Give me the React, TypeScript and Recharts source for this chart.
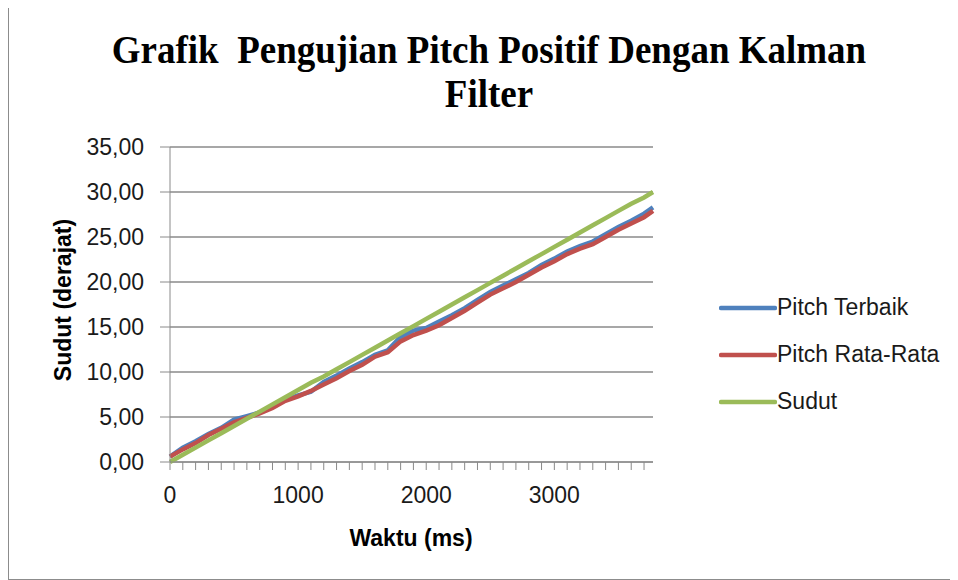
import React from "react";
import {
  LineChart,
  Line,
  XAxis,
  YAxis,
  CartesianGrid,
} from "recharts";

// time stamps in ms
const TIME = [
  0, 100, 200, 300, 400, 500, 600, 700, 800, 900, 1000, 1100, 1200, 1300,
  1400, 1500, 1600, 1700, 1800, 1900, 2000, 2100, 2200, 2300, 2400, 2500,
  2600, 2700, 2800, 2900, 3000, 3100, 3200, 3300, 3400, 3500, 3600, 3700,
  3770,
];

const PITCH_TERBAIK = [
  0.6, 1.6, 2.3, 3.1, 3.8, 4.7, 5.1, 5.5, 6.1, 6.9, 7.4, 7.8, 8.9, 9.6,
  10.4, 11.1, 11.9, 12.4, 13.9, 14.6, 14.9, 15.6, 16.3, 17.1, 18.0, 18.9,
  19.6, 20.3, 21.0, 21.9, 22.6, 23.4, 24.0, 24.5, 25.3, 26.1, 26.8, 27.6,
  28.3,
];

const PITCH_RATA = [
  0.6, 1.4, 2.1, 3.0, 3.7, 4.4, 4.9, 5.4, 6.0, 6.8, 7.3, 7.9, 8.6, 9.3,
  10.1, 10.8, 11.7, 12.2, 13.4, 14.1, 14.6, 15.2, 16.0, 16.8, 17.7, 18.6,
  19.3, 20.0, 20.8, 21.6, 22.3, 23.1, 23.7, 24.2, 25.0, 25.8, 26.5, 27.2,
  27.9,
];

const SUDUT = [
  0, 0.8, 1.6, 2.4, 3.2, 4.0, 4.8, 5.6, 6.4, 7.2, 8.0, 8.8, 9.5, 10.3,
  11.1, 11.9, 12.7, 13.5, 14.3, 15.1, 15.9, 16.7, 17.5, 18.3, 19.1, 19.9,
  20.7, 21.5, 22.3, 23.1, 23.9, 24.7, 25.5, 26.3, 27.1, 27.9, 28.7, 29.4,
  30.0,
];

const X_TICKS = [
  0, 100, 200, 300, 400, 500, 600, 700, 800, 900, 1000, 1100, 1200, 1300,
  1400, 1500, 1600, 1700, 1800, 1900, 2000, 2100, 2200, 2300, 2400, 2500,
  2600, 2700, 2800, 2900, 3000, 3100, 3200, 3300, 3400, 3500, 3600, 3700,
];
const X_LABELS = [0, 1000, 2000, 3000];
const Y_TICKS = [0, 5, 10, 15, 20, 25, 30, 35];

const SERIES = [
  { key: "terbaik", name: "Pitch Terbaik", color: "#4f81bd" },
  { key: "rata", name: "Pitch Rata-Rata", color: "#c0504d" },
  { key: "sudut", name: "Sudut", color: "#9bbb59" },
];

const data = TIME.map((t, i) => ({
  t,
  terbaik: PITCH_TERBAIK[i],
  rata: PITCH_RATA[i],
  sudut: SUDUT[i],
}));

const SANS = '"Liberation Sans", Arial, sans-serif';
const GRID = "#8a8a8a";

export default function App() {
  return (
    <div
      style={{
        position: "relative",
        width: 943,
        height: 572,
        borderLeft: "1px solid #8c8c8c",
        borderRight: "1px solid #8c8c8c",
        borderBottom: "1px solid #8c8c8c",
        boxSizing: "border-box",
        background: "#fff",
      }}
    >
      {/* title, a bit taller than the plain serif like the original */}
      <div
        style={{
          position: "absolute",
          left: 0,
          top: 20,
          width: 960,
          textAlign: "center",
          fontFamily: '"Liberation Serif", "Times New Roman", serif',
          fontWeight: "bold",
          fontSize: 37,
          lineHeight: "40px",
          color: "#000",
          transform: "scaleY(1.1)",
          transformOrigin: "top",
        }}
      >
        Grafik&nbsp; Pengujian Pitch Positif Dengan Kalman
        <br />
        Filter
      </div>

      <div style={{ position: "absolute", left: 0, top: 0 }}>
        <LineChart
          width={942}
          height={572}
          data={data}
          margin={{ top: 139, right: 298, left: 0, bottom: 58 }}
        >
          <CartesianGrid vertical={false} stroke={GRID} strokeWidth={1.3} />
          <XAxis
            dataKey="t"
            type="number"
            domain={[0, 3770]}
            ticks={X_TICKS}
            interval={0}
            height={60}
            tickSize={8}
            tickMargin={17}
            stroke={GRID}
            tickLine={{ stroke: GRID }}
            tick={{ fontFamily: SANS, fontSize: 23, fill: "#1a1a1a" }}
            tickFormatter={(v: number) =>
              X_LABELS.includes(v) ? String(v) : ""
            }
          />
          <YAxis
            type="number"
            domain={[0, 35]}
            ticks={Y_TICKS}
            interval={0}
            width={161}
            tickSize={10}
            tickMargin={16}
            stroke={GRID}
            tickLine={{ stroke: GRID }}
            tick={{ fontFamily: SANS, fontSize: 23, fill: "#1a1a1a" }}
            tickFormatter={(v: number) => v.toFixed(2).replace(".", ",")}
          />
          {SERIES.map((s) => (
            <Line
              key={s.key}
              dataKey={s.key}
              name={s.name}
              stroke={s.color}
              strokeWidth={4.5}
              dot={false}
              type="linear"
              isAnimationActive={false}
            />
          ))}
        </LineChart>
      </div>

      {/* axis titles */}
      <div
        style={{
          position: "absolute",
          left: 302,
          top: 517,
          width: 200,
          textAlign: "center",
          fontFamily: SANS,
          fontWeight: "bold",
          fontSize: 23,
          lineHeight: "26px",
          color: "#000",
        }}
      >
        Waktu (ms)
      </div>
      <div
        style={{
          position: "absolute",
          left: 54 - 120,
          top: 292 - 13,
          width: 240,
          textAlign: "center",
          transform: "rotate(-90deg)",
          fontFamily: SANS,
          fontWeight: "bold",
          fontSize: 23,
          lineHeight: "26px",
          color: "#000",
        }}
      >
        Sudut (derajat)
      </div>

      {/* legend */}
      <div style={{ position: "absolute", left: 710, top: 276 }}>
        {SERIES.map((s) => (
          <div
            key={s.key}
            style={{
              display: "flex",
              alignItems: "center",
              height: 47,
              fontFamily: SANS,
              fontSize: 23,
              color: "#1a1a1a",
            }}
          >
            <svg width={58} height={10}>
              <line
                x1={2}
                y1={5}
                x2={56}
                y2={5}
                stroke={s.color}
                strokeWidth={4.5}
                strokeLinecap="round"
              />
            </svg>
            <span>{s.name}</span>
          </div>
        ))}
      </div>
    </div>
  );
}
